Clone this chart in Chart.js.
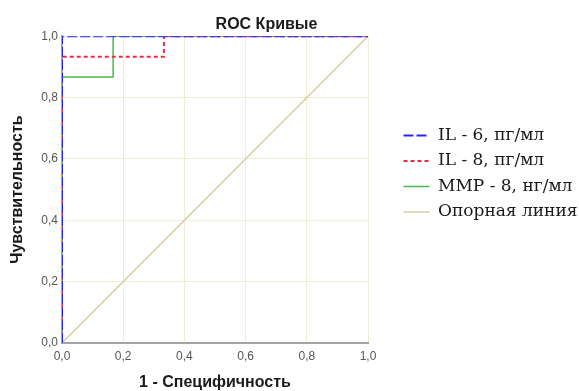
<!DOCTYPE html>
<html>
<head>
<meta charset="utf-8">
<script src="https://cdn.jsdelivr.net/npm/chart.js@4"></script>
<style>
  body { margin: 0; background: #fff; }
</style>
</head>
<body>
<canvas id="roc" width="579" height="391"></canvas>
<script>
// точки ROC кривых (1 - специфичность, чувствительность)
const il6X = [0, 0, 1];
const il6Y = [0, 1, 1];
const il8X = [0, 0, 0.333, 0.333, 1];
const il8Y = [0, 0.933, 0.933, 1, 1];
const mmpX = [0, 0, 0.167, 0.167, 1];
const mmpY = [0, 0.867, 0.867, 1, 1];
const refX = [0, 1];
const refY = [0, 1];

const seriesNames = ["IL - 6, пг/мл", "IL - 8, пг/мл", "MMP - 8, нг/мл", "Опорная линия"];
const tickValues = [0, 0.2, 0.4, 0.6, 0.8, 1.0];

function pts(xs, ys) {
  return xs.map((x, i) => ({ x: x, y: ys[i] }));
}

// после раскладки: заголовок чуть левее центра, легенда от графика до правого края
const placeBoxes = {
  id: 'placeBoxes',
  afterLayout(chart, args, opts) {
    chart.titleBlock.left = 0;
    chart.titleBlock.right = chart.width - opts.titleTrim;
    const lg = chart.legend;
    lg.left = chart.chartArea.right + opts.legendGap;
    lg.right = chart.width;
    lg.width = lg.right - lg.left;
  }
};

const fmt = v => v.toFixed(1).replace('.', ',');

// в легенде нужен пунктир как у линий
function legendItems(chart) {
  const items = Chart.defaults.plugins.legend.labels.generateLabels(chart);
  items.forEach(item => {
    const ds = chart.data.datasets[item.datasetIndex];
    item.strokeStyle = ds.borderColor;
    item.lineWidth = ds.borderWidth;
    item.lineDash = ds.borderDash || [];
  });
  return items;
}

new Chart(document.getElementById("roc"), {
  type: 'scatter',
  plugins: [placeBoxes],
  data: {
    datasets: [
      { label: seriesNames[0], data: pts(il6X, il6Y), borderColor: "#2424ff", borderWidth: 2, borderDash: [10, 3] },
      { label: seriesNames[1], data: pts(il8X, il8Y), borderColor: "#f0284a", borderWidth: 2, borderDash: [4, 3] },
      { label: seriesNames[2], data: pts(mmpX, mmpY), borderColor: "#4cb84c", borderWidth: 1.5 },
      { label: seriesNames[3], data: pts(refX, refY), borderColor: "#d8cda0", borderWidth: 1.5 }
    ]
  },
  options: {
    responsive: false,
    animation: false,
    showLine: true,
    elements: { point: { radius: 0 }, line: { tension: 0, fill: false } },
    layout: { padding: { right: 111 } },
    plugins: {
      placeBoxes: { titleTrim: 46, legendGap: 27 },
      tooltip: { enabled: false },
      title: {
        display: true,
        text: 'ROC Кривые',
        color: '#1a1a1a',
        font: { family: 'Liberation Sans', size: 16, weight: 'bold', lineHeight: 1.2 },
        padding: { top: 15, bottom: 2 }
      },
      legend: {
        position: 'right',
        align: 'start',
        fullSize: false,
        maxWidth: 100,
        title: { display: true, text: '', font: { size: 1 }, padding: { top: 81, bottom: 0 } },
        labels: {
          usePointStyle: true,
          pointStyle: 'line',
          pointStyleWidth: 26,
          color: '#1a1a1a',
          font: { family: 'DejaVu Serif', size: 17 },
          padding: 8.5,
          generateLabels: legendItems
        }
      }
    },
    scales: {
      x: {
        type: 'linear',
        min: 0,
        max: 1,
        afterBuildTicks: s => { s.ticks = tickValues.map(v => ({ value: v })); },
        afterFit: s => { s.height = 48; },
        ticks: {
          color: '#555',
          font: { family: 'Liberation Sans', size: 12 },
          padding: 6,
          maxRotation: 0,
          callback: fmt
        },
        grid: { color: '#efedd6', drawTicks: false },
        border: { color: '#a4a4a4', width: 2 },
        title: {
          display: true,
          text: '1 - Специфичность',
          color: '#1a1a1a',
          font: { family: 'Liberation Sans', size: 16, weight: 'bold', lineHeight: 1 },
          padding: 0
        }
      },
      y: {
        type: 'linear',
        min: 0,
        max: 1,
        afterBuildTicks: s => { s.ticks = tickValues.map(v => ({ value: v })); },
        afterFit: s => { s.width = 62; },
        ticks: {
          color: '#555',
          font: { family: 'Liberation Sans', size: 12 },
          padding: 4,
          callback: fmt
        },
        grid: { color: '#efedd6', drawTicks: false },
        border: { color: '#a4a4a4', width: 2 },
        title: {
          display: true,
          text: 'Чувствительность',
          color: '#1a1a1a',
          font: { family: 'Liberation Sans', size: 16, weight: 'bold', lineHeight: 1 },
          padding: { top: 10, bottom: 0 }
        }
      }
    }
  }
});
</script>
</body>
</html>
